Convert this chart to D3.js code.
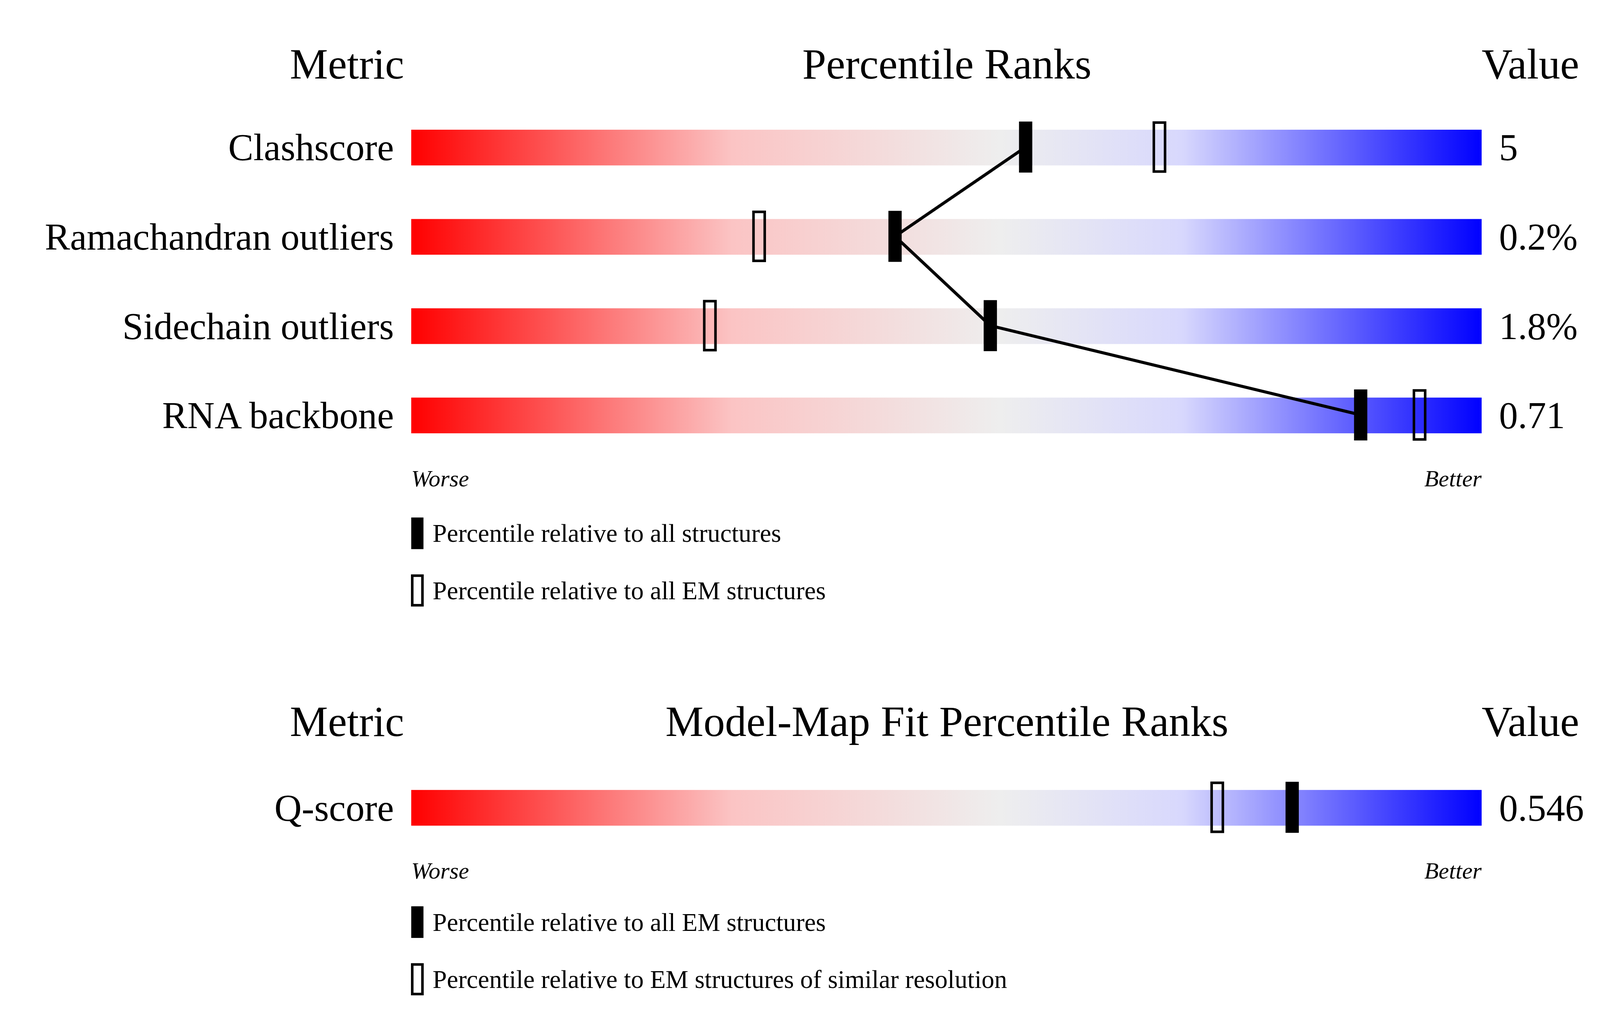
<!DOCTYPE html>
<html><head><meta charset="utf-8">
<script src="https://cdn.jsdelivr.net/npm/d3@7"></script>
<style>html,body{margin:0;background:#fff;overflow:hidden}svg{display:block;width:100vw;height:100vh}text{font-family:"Liberation Serif","DejaVu Serif",serif;fill:#000}</style>
</head><body>
<svg id="chart"></svg>
<script>
// ===== data =====
const metrics = ['Clashscore','Ramachandran outliers','Sidechain outliers','RNA backbone'];
const values = ['5','0.2%','1.8%','0.71'];
const pctAll = [57.4, 45.2, 54.1, 88.7];
const pctEM = [69.9, 32.5, 27.9, 94.2];
const fitMetrics = ['Q-score'];
const fitValues = ['0.546'];
const fitPctEM = [82.3];
const fitPctRes = [75.3];
const legend1 = ['Percentile relative to all structures','Percentile relative to all EM structures'];
const legend2 = ['Percentile relative to all EM structures','Percentile relative to EM structures of similar resolution'];

const svg = d3.select('#chart').attr('viewBox','0 0 1568 927').attr('preserveAspectRatio','xMidYMid meet');
const x = d3.scaleLinear().domain([0,100]).range([403,1452]);

const defs = svg.append('defs');
const grad = defs.append('linearGradient').attr('id','g').attr('x1','0%').attr('x2','100%');
[[0,'#ff0000'],[0.3,'#fbc4c4'],[0.55,'#eeeeee'],[0.72,'#d8d8fd'],[1,'#0000ff']]
  .forEach(([o,c])=>grad.append('stop').attr('offset',o).attr('stop-color',c));

function headers(y, mid){
  svg.append('text').attr('x',340).attr('y',y).attr('text-anchor','middle').style('font-size','42px').text('Metric');
  svg.append('text').attr('x',928).attr('y',y).attr('text-anchor','middle').style('font-size','42px').text(mid);
  svg.append('text').attr('x',1452).attr('y',y).style('font-size','42px').text('Value');
}

function panel(names, vals, pf, ph, y0, connect){
  const ys = names.map((d,i)=>y0 + i*87.5);
  names.forEach((n,i)=>{
    const cy = ys[i];
    svg.append('rect').attr('x',x(0)).attr('y',cy-17).attr('width',x(100)-x(0)).attr('height',35).attr('fill','url(#g)');
    svg.append('text').attr('x',386).attr('y',cy+13).attr('text-anchor','end').style('font-size','37px').text(n);
    svg.append('text').attr('x',1469).attr('y',cy+13).style('font-size','37px').text(vals[i]);
  });
  if(connect){
    svg.append('path').attr('d',d3.line().x(d=>x(d[0])).y(d=>d[1])(pf.map((p,i)=>[p,ys[i]])))
      .attr('fill','none').attr('stroke','#000').attr('stroke-width',3);
  }
  ph.forEach((p,i)=>svg.append('rect').attr('x',x(p)-5.5).attr('y',ys[i]-24).attr('width',11).attr('height',48)
    .attr('fill','none').attr('stroke','#000').attr('stroke-width',2.5));
  pf.forEach((p,i)=>svg.append('rect').attr('x',x(p)-6.5).attr('y',ys[i]-25).attr('width',13).attr('height',50).attr('fill','#000'));
  const yb = ys[ys.length-1];
  svg.append('text').attr('x',x(0)).attr('y',yb+70).style('font-size','23px').style('font-style','italic').text('Worse');
  svg.append('text').attr('x',x(100)).attr('y',yb+70).attr('text-anchor','end').style('font-size','23px').style('font-style','italic').text('Better');
  return yb;
}

function legend(items, y){
  items.forEach((t,i)=>{
    const ly = y + i*56;
    if(i===0) svg.append('rect').attr('x',403).attr('y',ly-15).attr('width',12).attr('height',31).attr('fill','#000');
    else svg.append('rect').attr('x',404).attr('y',ly-14).attr('width',10).attr('height',29).attr('fill','none').attr('stroke','#000').attr('stroke-width',2.5);
    svg.append('text').attr('x',424).attr('y',ly+9).style('font-size','25px').text(t);
  });
}

headers(33,'Percentile Ranks');
panel(metrics, values, pctAll, pctEM, 100, true);
legend(legend1, 478);

headers(677,'Model-Map Fit Percentile Ranks');
panel(fitMetrics, fitValues, fitPctEM, fitPctRes, 747, false);
legend(legend2, 859);
</script>
</body></html>
